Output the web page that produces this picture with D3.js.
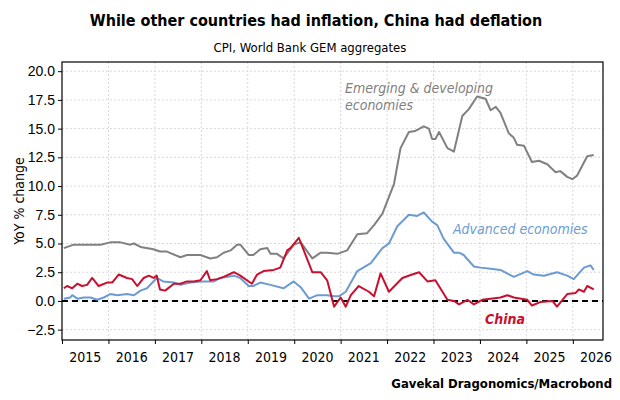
<!DOCTYPE html>
<html><head><meta charset="utf-8">
<script src="https://cdn.jsdelivr.net/npm/d3@7"></script>
<style>body{margin:0;background:#fff}svg{font-family:"DejaVu Sans Condensed","DejaVu Sans",sans-serif}</style>
</head><body><svg id="c" width="620" height="400"></svg>
<script>
// decimal year, YoY %
const emerging = [[2015.04,4.6],[2015.25,4.9],[2015.83,4.9],[2016.04,5.1],[2016.26,5.1],[2016.47,4.9],[2016.55,5.0],[2016.69,4.7],[2016.97,4.5],[2017.11,4.3],[2017.26,4.3],[2017.55,3.8],[2017.69,4.0],[2017.98,4.0],[2018.19,3.7],[2018.34,3.8],[2018.48,4.2],[2018.63,4.4],[2018.77,4.9],[2018.84,4.9],[2019.02,4.0],[2019.12,4.0],[2019.27,4.5],[2019.42,4.6],[2019.49,4.1],[2019.63,4.1],[2019.77,3.7],[2019.99,4.9],[2020.14,5.1],[2020.39,3.7],[2020.57,4.2],[2020.71,4.2],[2020.93,4.1],[2021.14,4.4],[2021.36,5.8],[2021.57,5.9],[2021.72,6.6],[2021.9,7.6],[2022.15,10.2],[2022.29,13.3],[2022.47,14.7],[2022.61,14.8],[2022.79,15.2],[2022.9,15.0],[2022.97,14.1],[2023.04,14.1],[2023.12,14.7],[2023.3,13.3],[2023.44,13.0],[2023.62,16.1],[2023.76,16.7],[2023.94,17.8],[2024.12,17.6],[2024.23,16.6],[2024.34,16.9],[2024.44,16.4],[2024.62,14.6],[2024.73,14.2],[2024.8,13.6],[2024.95,13.5],[2025.12,12.1],[2025.27,12.2],[2025.45,11.9],[2025.63,11.2],[2025.73,11.3],[2025.88,10.8],[2025.99,10.6],[2026.09,10.9],[2026.31,12.6],[2026.45,12.7]];
const advanced = [[2015.04,0.2],[2015.18,0.3],[2015.22,0.5],[2015.33,0.2],[2015.47,0.3],[2015.61,0.3],[2015.76,0.1],[2015.9,0.3],[2016.04,0.6],[2016.19,0.5],[2016.4,0.6],[2016.55,0.5],[2016.69,0.9],[2016.83,1.1],[2017.04,2.0],[2017.18,1.7],[2017.41,1.6],[2017.55,1.4],[2017.77,1.6],[2017.98,1.7],[2018.27,1.7],[2018.41,2.0],[2018.7,2.2],[2018.84,2.0],[2019.02,1.3],[2019.12,1.3],[2019.27,1.6],[2019.49,1.4],[2019.77,1.1],[2019.99,1.7],[2020.14,1.2],[2020.32,0.2],[2020.5,0.5],[2020.71,0.5],[2020.86,0.4],[2020.96,0.4],[2021.11,0.8],[2021.36,2.6],[2021.65,3.3],[2021.9,4.6],[2022.04,5.0],[2022.22,6.5],[2022.47,7.5],[2022.65,7.4],[2022.79,7.7],[2022.97,6.9],[2023.08,6.6],[2023.22,5.4],[2023.44,4.2],[2023.55,4.2],[2023.65,4.0],[2023.87,3.0],[2024.01,2.9],[2024.23,2.8],[2024.44,2.7],[2024.73,2.1],[2025.02,2.6],[2025.16,2.3],[2025.38,2.2],[2025.66,2.5],[2025.88,2.2],[2026.02,1.9],[2026.24,2.9],[2026.38,3.1],[2026.45,2.7]];
const china = [[2015.04,1.1],[2015.11,1.3],[2015.22,1.1],[2015.33,1.5],[2015.43,1.3],[2015.54,1.4],[2015.65,2.0],[2015.79,1.3],[2015.97,1.6],[2016.08,1.6],[2016.22,2.3],[2016.4,2.0],[2016.51,1.9],[2016.62,1.3],[2016.76,2.0],[2016.87,2.2],[2016.97,2.0],[2017.04,2.2],[2017.11,1.0],[2017.22,0.9],[2017.41,1.5],[2017.55,1.5],[2017.69,1.7],[2017.84,1.7],[2017.98,1.8],[2018.12,2.6],[2018.19,1.8],[2018.34,1.9],[2018.48,2.1],[2018.7,2.5],[2018.84,2.2],[2019.09,1.5],[2019.2,2.3],[2019.34,2.6],[2019.56,2.7],[2019.7,2.9],[2019.85,4.4],[2019.92,4.6],[2020.1,5.5],[2020.39,2.5],[2020.57,2.5],[2020.71,1.8],[2020.86,-0.5],[2021.0,0.3],[2021.11,-0.5],[2021.22,0.5],[2021.39,1.3],[2021.61,0.8],[2021.72,0.4],[2021.86,2.4],[2022.04,0.8],[2022.33,2.0],[2022.54,2.3],[2022.69,2.5],[2022.87,1.7],[2023.04,1.8],[2023.3,0.1],[2023.44,0.0],[2023.55,-0.3],[2023.73,0.1],[2023.87,-0.3],[2024.05,0.1],[2024.23,0.2],[2024.44,0.3],[2024.59,0.5],[2024.73,0.3],[2025.02,0.1],[2025.12,-0.4],[2025.3,-0.1],[2025.56,0.0],[2025.66,-0.5],[2025.88,0.6],[2026.06,0.7],[2026.13,1.0],[2026.24,0.8],[2026.31,1.3],[2026.45,1.0]];
const years = d3.range(2015, 2027);
const yTicks = [-2.5, 0, 2.5, 5, 7.5, 10, 12.5, 15, 17.5, 20];

const svg = d3.select("#c");
const m = {l: 62, r: 17, t: 62, b: 60};
const W = 620, H = 400;
const x = d3.scaleLinear().domain([2015, 2026.65]).range([m.l, W - m.r]);
const y = d3.scaleLinear().domain([-3.4, 20.8]).range([H - m.b, m.t]);

// grid
svg.append("g").selectAll("line").data(yTicks).join("line")
  .attr("x1", m.l).attr("x2", W - m.r).attr("y1", d => y(d)).attr("y2", d => y(d))
  .attr("stroke", "#d9d9d9").attr("stroke-dasharray", "2,2");
svg.append("g").selectAll("line").data(years.slice(1)).join("line")
  .attr("y1", m.t).attr("y2", H - m.b).attr("x1", d => x(d)).attr("x2", d => x(d))
  .attr("stroke", "#d9d9d9").attr("stroke-dasharray", "2,2");

// zero line
svg.append("line").attr("x1", m.l).attr("x2", W - m.r).attr("y1", y(0)).attr("y2", y(0))
  .attr("stroke", "#000").attr("stroke-width", 2).attr("stroke-dasharray", "6,4");

const line = d3.line().x(d => x(d[0])).y(d => y(d[1]));
[[emerging, "#808080"], [advanced, "#6b9bd2"], [china, "#c8102e"]].forEach(([s, c]) => {
  svg.append("path").datum(s).attr("d", line).attr("fill", "none")
    .attr("stroke", c).attr("stroke-width", 2).attr("stroke-linejoin", "round");
});

// frame
svg.append("rect").attr("x", m.l).attr("y", m.t).attr("width", W - m.r - m.l).attr("height", H - m.b - m.t)
  .attr("fill", "none").attr("stroke", "#000").attr("stroke-width", 1.2);

// y axis
const ya = svg.append("g").attr("transform", `translate(${m.l},0)`)
  .call(d3.axisLeft(y).tickValues(yTicks).tickSize(4).tickFormat(d3.format(".1f")));
ya.select(".domain").remove();
ya.selectAll("text").attr("font-size", 14).attr("fill", "#000");

// x axis
const xa = svg.append("g").attr("transform", `translate(0,${H - m.b})`)
  .call(d3.axisBottom(x).tickValues(years).tickSize(4).tickFormat(""));
xa.select(".domain").remove();
svg.append("g").selectAll("text").data(years).join("text")
  .attr("x", d => x(d + 0.5)).attr("y", H - m.b + 22).attr("text-anchor", "middle")
  .attr("font-size", 14).text(d => d);

// titles
svg.append("text").attr("x", 316).attr("y", 26).attr("text-anchor", "middle")
  .attr("font-size", 16).attr("font-weight", "bold").text("While other countries had inflation, China had deflation");
svg.append("text").attr("x", 310).attr("y", 52).attr("text-anchor", "middle")
  .attr("font-size", 13).text("CPI, World Bank GEM aggregates");
svg.append("text").attr("transform", `translate(24,${(m.t + H - m.b) / 2}) rotate(-90)`)
  .attr("text-anchor", "middle").attr("font-size", 14).text("YoY % change");
svg.append("text").attr("x", 612).attr("y", 388).attr("text-anchor", "end")
  .attr("font-size", 13).attr("font-weight", "bold").text("Gavekal Dragonomics/Macrobond");

// series labels
const lab = (tx, lx, ly, c, bold) => svg.append("text").attr("x", lx).attr("y", ly)
  .attr("font-size", 14).attr("font-style", "italic").attr("fill", c)
  .attr("font-weight", bold ? "bold" : "normal").text(tx);
lab("Emerging & developing", 345, 93, "#808080");
lab("economies", 345, 110, "#808080");
lab("Advanced economies", 453, 234, "#6b9bd2");
lab("China", 485, 324, "#c8102e", true);
</script></body></html>
